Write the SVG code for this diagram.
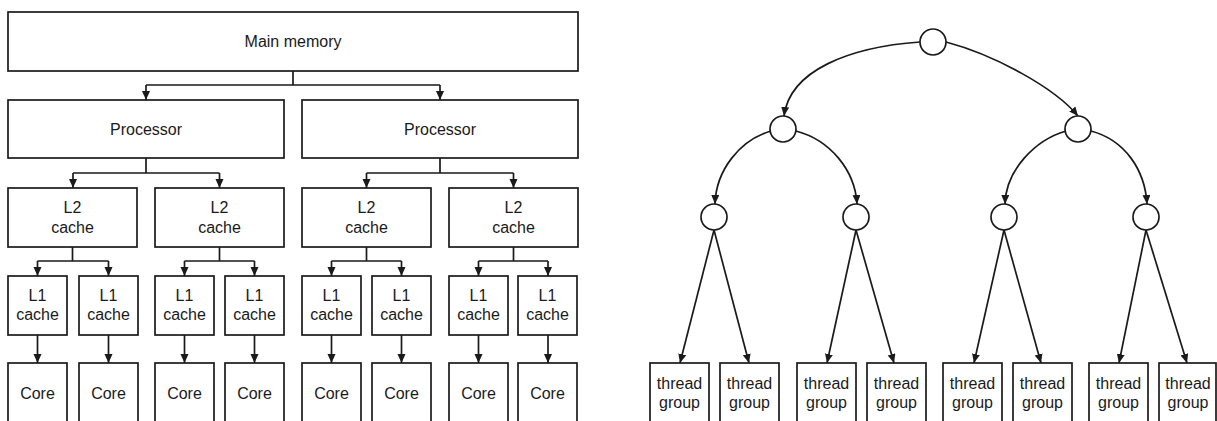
<svg xmlns="http://www.w3.org/2000/svg" width="1217" height="421" viewBox="0 0 1217 421">
<defs>
<style>
.box{fill:#fff;stroke:#1a1a1a;stroke-width:1.7}
.node{fill:#fff;stroke:#1a1a1a;stroke-width:1.7}
.t{font-family:"Liberation Sans",Arial,sans-serif;font-size:16px;fill:#1a1a1a;text-anchor:middle}
.c{fill:none;stroke:#1a1a1a;stroke-width:1.7}
.a{marker-end:url(#arr)}
</style>
<marker id="arr" markerUnits="userSpaceOnUse" markerWidth="10" markerHeight="9" refX="9" refY="4" orient="auto">
<path d="M0,0 L9,4 L0,8 z" fill="#1a1a1a"/>
</marker>
</defs>
<rect width="1217" height="421" fill="#fff"/>

<g id="connectors">
<!-- left hierarchy -->
<path class="c" d="M293,71 V85 M146,85 H440"/>
<path class="c a" d="M146,85 V100"/>
<path class="c a" d="M440,85 V100"/>
<path class="c" d="M146,158 V173 M73,173 H219.5 M440,158 V173 M366.5,173 H513.5"/>
<path class="c a" d="M73,173 V188"/>
<path class="c a" d="M219.5,173 V188"/>
<path class="c a" d="M366.5,173 V188"/>
<path class="c a" d="M513.5,173 V188"/>
<path class="c" d="M72.5,247 V261 M37.5,261 H108.5 M219.5,247 V261 M184.5,261 H254.5 M366.5,247 V261 M331.5,261 H401.5 M513.5,247 V261 M478.5,261 H548"/>
<path class="c a" d="M37.5,261 V276"/>
<path class="c a" d="M108.5,261 V276"/>
<path class="c a" d="M184.5,261 V276"/>
<path class="c a" d="M254.5,261 V276"/>
<path class="c a" d="M331.5,261 V276"/>
<path class="c a" d="M401.5,261 V276"/>
<path class="c a" d="M478.5,261 V276"/>
<path class="c a" d="M548,261 V276"/>
<path class="c a" d="M37.5,335 V363"/>
<path class="c a" d="M108.5,335 V363"/>
<path class="c a" d="M184.5,335 V363"/>
<path class="c a" d="M254.5,335 V363"/>
<path class="c a" d="M331.5,335 V363"/>
<path class="c a" d="M401.5,335 V363"/>
<path class="c a" d="M478.5,335 V363"/>
<path class="c a" d="M548,335 V363"/>
<!-- right tree -->
<path class="c a" d="M920,42 C850,47 790,70 784,116"/>
<path class="c a" d="M946,42 C995,55 1055,88 1078,116"/>
<path class="c a" d="M771,131 C740,140 716,170 715,204"/>
<path class="c a" d="M796,131 C830,140 855,170 857,204"/>
<path class="c a" d="M1066,131 C1035,140 1006,170 1005,204"/>
<path class="c a" d="M1091,131 C1125,140 1145,170 1147,204"/>
<path class="c a" d="M714,230 L680,363"/>
<path class="c a" d="M714,230 L749,363"/>
<path class="c a" d="M856,230 L827,363"/>
<path class="c a" d="M856,230 L894,363"/>
<path class="c a" d="M1004,230 L974,363"/>
<path class="c a" d="M1004,230 L1041,363"/>
<path class="c a" d="M1146,230 L1119,363"/>
<path class="c a" d="M1146,230 L1187,363"/>
</g>

<g id="main-memory"><rect class="box" x="8" y="12" width="570" height="59"/><text class="t" x="293" y="47">Main memory</text></g>
<g id="processor-1"><rect class="box" x="8" y="100" width="276" height="58"/><text class="t" x="146" y="135">Processor</text></g>
<g id="processor-2"><rect class="box" x="302" y="100" width="276" height="58"/><text class="t" x="440" y="135">Processor</text></g>

<g id="l2-1"><rect class="box" x="8" y="188" width="129" height="59"/><text class="t" x="72.5" y="213">L2</text><text class="t" x="72.5" y="233">cache</text></g>
<g id="l2-2"><rect class="box" x="155" y="188" width="129" height="59"/><text class="t" x="219.5" y="213">L2</text><text class="t" x="219.5" y="233">cache</text></g>
<g id="l2-3"><rect class="box" x="302" y="188" width="129" height="59"/><text class="t" x="366.5" y="213">L2</text><text class="t" x="366.5" y="233">cache</text></g>
<g id="l2-4"><rect class="box" x="449" y="188" width="129" height="59"/><text class="t" x="513.5" y="213">L2</text><text class="t" x="513.5" y="233">cache</text></g>

<g id="l1-1"><rect class="box" x="8" y="276" width="59" height="59"/><text class="t" x="37.5" y="300.5">L1</text><text class="t" x="37.5" y="320">cache</text></g>
<g id="l1-2"><rect class="box" x="79" y="276" width="59" height="59"/><text class="t" x="108.5" y="300.5">L1</text><text class="t" x="108.5" y="320">cache</text></g>
<g id="l1-3"><rect class="box" x="155" y="276" width="59" height="59"/><text class="t" x="184.5" y="300.5">L1</text><text class="t" x="184.5" y="320">cache</text></g>
<g id="l1-4"><rect class="box" x="225" y="276" width="59" height="59"/><text class="t" x="254.5" y="300.5">L1</text><text class="t" x="254.5" y="320">cache</text></g>
<g id="l1-5"><rect class="box" x="302" y="276" width="59" height="59"/><text class="t" x="331.5" y="300.5">L1</text><text class="t" x="331.5" y="320">cache</text></g>
<g id="l1-6"><rect class="box" x="372" y="276" width="59" height="59"/><text class="t" x="401.5" y="300.5">L1</text><text class="t" x="401.5" y="320">cache</text></g>
<g id="l1-7"><rect class="box" x="449" y="276" width="59" height="59"/><text class="t" x="478.5" y="300.5">L1</text><text class="t" x="478.5" y="320">cache</text></g>
<g id="l1-8"><rect class="box" x="518" y="276" width="59" height="59"/><text class="t" x="547.5" y="300.5">L1</text><text class="t" x="547.5" y="320">cache</text></g>

<g id="core-1"><rect class="box" x="8" y="363" width="59" height="70"/><text class="t" x="37.5" y="398.5">Core</text></g>
<g id="core-2"><rect class="box" x="79" y="363" width="59" height="70"/><text class="t" x="108.5" y="398.5">Core</text></g>
<g id="core-3"><rect class="box" x="155" y="363" width="59" height="70"/><text class="t" x="184.5" y="398.5">Core</text></g>
<g id="core-4"><rect class="box" x="225" y="363" width="59" height="70"/><text class="t" x="254.5" y="398.5">Core</text></g>
<g id="core-5"><rect class="box" x="302" y="363" width="59" height="70"/><text class="t" x="331.5" y="398.5">Core</text></g>
<g id="core-6"><rect class="box" x="372" y="363" width="59" height="70"/><text class="t" x="401.5" y="398.5">Core</text></g>
<g id="core-7"><rect class="box" x="449" y="363" width="59" height="70"/><text class="t" x="478.5" y="398.5">Core</text></g>
<g id="core-8"><rect class="box" x="518" y="363" width="59" height="70"/><text class="t" x="547.5" y="398.5">Core</text></g>

<g id="tree-root"><circle class="node" cx="933" cy="42" r="13"/></g>
<g id="tree-l2-1"><circle class="node" cx="783" cy="129" r="13"/></g>
<g id="tree-l2-2"><circle class="node" cx="1078" cy="129" r="13"/></g>
<g id="tree-l3-1"><circle class="node" cx="714" cy="217" r="13"/></g>
<g id="tree-l3-2"><circle class="node" cx="856" cy="217" r="13"/></g>
<g id="tree-l3-3"><circle class="node" cx="1004" cy="217" r="13"/></g>
<g id="tree-l3-4"><circle class="node" cx="1146" cy="217" r="13"/></g>

<g id="tg-1"><rect class="box" x="650" y="363" width="59" height="70"/><text class="t" x="679.5" y="389">thread</text><text class="t" x="679.5" y="408">group</text></g>
<g id="tg-2"><rect class="box" x="720" y="363" width="59" height="70"/><text class="t" x="749.5" y="389">thread</text><text class="t" x="749.5" y="408">group</text></g>
<g id="tg-3"><rect class="box" x="797" y="363" width="59" height="70"/><text class="t" x="826.5" y="389">thread</text><text class="t" x="826.5" y="408">group</text></g>
<g id="tg-4"><rect class="box" x="867" y="363" width="59" height="70"/><text class="t" x="896.5" y="389">thread</text><text class="t" x="896.5" y="408">group</text></g>
<g id="tg-5"><rect class="box" x="943" y="363" width="59" height="70"/><text class="t" x="972.5" y="389">thread</text><text class="t" x="972.5" y="408">group</text></g>
<g id="tg-6"><rect class="box" x="1013" y="363" width="59" height="70"/><text class="t" x="1042.5" y="389">thread</text><text class="t" x="1042.5" y="408">group</text></g>
<g id="tg-7"><rect class="box" x="1089" y="363" width="59" height="70"/><text class="t" x="1118.5" y="389">thread</text><text class="t" x="1118.5" y="408">group</text></g>
<g id="tg-8"><rect class="box" x="1159" y="363" width="57" height="70"/><text class="t" x="1188" y="389">thread</text><text class="t" x="1188" y="408">group</text></g>
</svg>
